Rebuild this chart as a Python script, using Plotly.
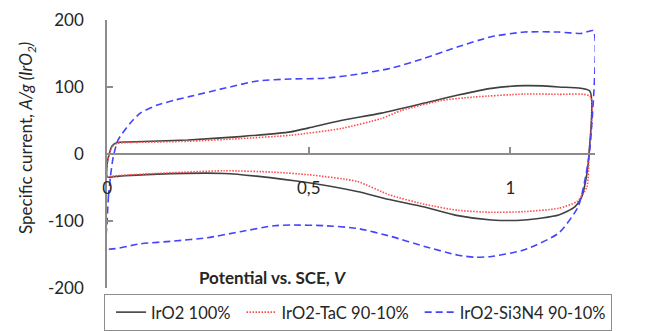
import plotly.graph_objects as go

# IrO2 100%
irO2_up_V = [0, 0.005, 0.012, 0.025, 0.05, 0.2, 0.33, 0.455, 0.5, 0.58, 0.68, 0.787, 0.87, 0.953, 1.035, 1.12, 1.197]
irO2_up_I = [-14, 0, 12, 17, 18, 21, 26, 33, 39, 50, 61, 76, 88, 98, 102, 100, 94]
irO2_dn_V = [1.195, 1.19, 1.177, 1.16, 1.12, 1.035, 0.953, 0.87, 0.787, 0.70, 0.62, 0.5, 0.37, 0.29, 0.124, 0.03, 0]
irO2_dn_I = [0, -29, -64, -79, -91, -98.5, -98.5, -92, -79, -68, -56, -43, -33, -29, -30, -33, -34]

# IrO2-TaC 90-10%
tac_up_V = [0, 0.005, 0.012, 0.025, 0.05, 0.2, 0.33, 0.455, 0.58, 0.68, 0.73, 0.83, 0.91, 1.035, 1.12, 1.198]
tac_up_I = [-14, 0, 11, 16, 17, 19, 23, 28, 38, 53, 65, 80, 85, 89.5, 89, 86]
tac_dn_V = [1.195, 1.19, 1.165, 1.12, 1.035, 0.953, 0.87, 0.787, 0.70, 0.62, 0.5, 0.41, 0.29, 0.124, 0.03, 0]
tac_dn_I = [-4, -49, -71, -81, -86, -87, -84, -75, -61, -41, -31, -27, -25, -29, -32, -33]

# IrO2-Si3N4 90-10%
si_up_V = [0, 0.003, 0.008, 0.015, 0.027, 0.057, 0.082, 0.124, 0.165, 0.206, 0.29, 0.373, 0.455, 0.538, 0.62, 0.704, 0.787, 0.87, 0.953, 1.035, 1.12, 1.177, 1.206]
si_up_I = [-100, -64, -34, -4, 21, 46, 61, 73, 80, 86, 98, 109, 112, 113, 119, 128, 143, 160, 175, 182, 182, 180, 184]
si_dn_V = [1.197, 1.185, 1.168, 1.12, 1.035, 0.953, 0.911, 0.87, 0.787, 0.704, 0.62, 0.538, 0.455, 0.414, 0.33, 0.248, 0.165, 0.082, 0]
si_dn_I = [6, -39, -79, -118, -143, -153, -154, -151, -138, -123, -111, -107, -106, -107, -116, -125, -130, -134, -141]

x_tick_vals = [0, 0.5, 1]
x_tick_text = ["0", "0,5", "1"]
y_tick_vals = [-200, -100, 0, 100, 200]
y_tick_text = ["-200", "-100", "0", "100", "200"]

series_names = ["IrO2 100%", "IrO2-TaC 90-10%", "IrO2-Si3N4 90-10%"]
series_colors = ["#404040", "#ff4a4a", "#4444ff"]
series_dash = ["solid", "1.5px,1.5px", "7px,4px"]

loops = [
    (irO2_up_V + irO2_dn_V + irO2_up_V[:1], irO2_up_I + irO2_dn_I + irO2_up_I[:1]),
    (tac_up_V + tac_dn_V + tac_up_V[:1], tac_up_I + tac_dn_I + tac_up_I[:1]),
    (si_up_V + si_dn_V + si_up_V[:1], si_up_I + si_dn_I + si_up_I[:1]),
]

FONT = "Lato"
TXT = "#262626"
AX = "#8c8c8c"

fig = go.Figure()
for (xv, yv), name, col, dash in zip(loops, series_names, series_colors, series_dash):
    fig.add_trace(go.Scatter(
        x=xv, y=yv, mode="lines", name=name,
        line=dict(color=col, width=1.6, dash=dash, shape="spline", smoothing=0.6),
    ))

# page body has an 8px default margin, so the figure is 8px smaller on each axis
fig.update_layout(
    width=659, height=323,
    margin=dict(l=99, r=72, t=12, b=43, autoexpand=False),
    paper_bgcolor="white", plot_bgcolor="white",
    font=dict(family=FONT, color=TXT, size=17),
    showlegend=True,
    legend=dict(
        orientation="h", x=-0.006, xanchor="left", y=-0.022, yanchor="top",
        bordercolor=AX, borderwidth=1, font=dict(size=16.5, family=FONT, color=TXT),
        bgcolor="white", indentation=6,
    ),
    xaxis=dict(
        range=[-0.0005, 1.21], anchor="free", position=0.5,
        showline=True, linecolor=AX, linewidth=1.5,
        ticks="inside", ticklen=6, tickcolor=AX, tickwidth=1.5,
        tickvals=x_tick_vals, ticktext=x_tick_text, showgrid=False, zeroline=False,
        ticklabelstandoff=19, tickfont=dict(size=17, color=TXT),
    ),
    yaxis=dict(
        range=[-200, 200], showline=True, linecolor=AX, linewidth=1.5,
        ticks="inside", ticklen=6, tickcolor=AX, tickwidth=1.5,
        tickvals=y_tick_vals, ticktext=y_tick_text, showgrid=False, zeroline=False,
        ticklabelstandoff=18, tickfont=dict(size=17, color=TXT),
    ),
    annotations=[
        dict(text="Specific current, <i>A/g (IrO<sub>2</sub>)</i>", textangle=-90,
             xref="paper", yref="paper", x=(27 - 107) / 488, y=(288 - 138) / 268,
             xanchor="center", yanchor="middle", showarrow=False,
             font=dict(size=17, color=TXT)),
        dict(text="<b>Potential vs. SCE, <i>V</i></b>",
             xref="paper", yref="paper", x=(272 - 107) / 488, y=(288 - 277) / 268,
             xanchor="center", yanchor="middle", showarrow=False,
             font=dict(size=17, color=TXT)),
    ],
)

fig.write_html("out.html")
